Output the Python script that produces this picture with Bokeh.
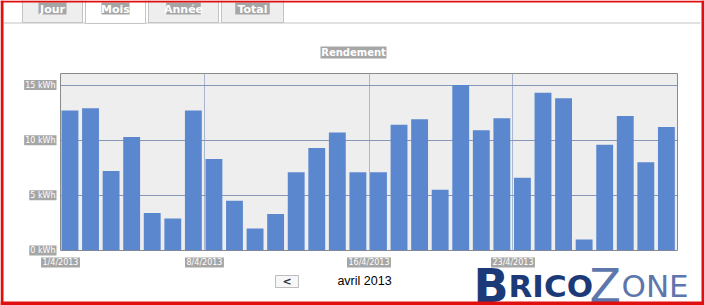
from bokeh.plotting import figure
from bokeh.models import Range1d, FixedTicker, ColumnDataSource
from bokeh.core.properties import value
from bokeh.embed import file_html
from bokeh.resources import INLINE

# ---- data ----
days = list(range(1, 31))
energy_kwh = [12.7, 12.9, 7.2, 10.3, 3.4, 2.9, 12.7, 8.3, 4.5, 2.0,
              3.3, 7.1, 9.3, 10.7, 7.1, 7.1, 11.4, 11.9, 5.5, 15.0,
              10.9, 12.0, 6.6, 14.3, 13.8, 1.0, 9.6, 12.2, 8.0, 11.2]
x_tick_days = [1, 8, 16, 23]
x_tick_labels = ["1/4/2013", "8/4/2013", "16/4/2013", "23/4/2013"]
y_ticks = [0, 5, 10, 15]
y_tick_labels = ["0 kWh", "5 kWh", "10 kWh", "15 kWh"]
tabs = ["Jour", "Mois", "Année", "Total"]
selected_tab = "Mois"
title_text = "Rendement"
month_text = "avril 2013"

W, H = 704, 305
FL, FR, FT, FB = 60, 677, 73, 250  # frame edges in canvas px
X0, X1, Y0, Y1 = 0, 30, 0, 16.05
TICK_FONT = "DejaVu Sans"
TICK_SIZE = 8
X_STANDOFF, Y_STANDOFF = 7, 5
LABEL_BG = "#a6a6a6"


def layer_style(z):
    return {"position": "absolute", "top": "0px", "left": "0px", "z-index": str(z)}


# ---------------- chart layer ----------------
src = ColumnDataSource(dict(x=[d - 1 + 0.46 for d in days], top=energy_kwh))
p = figure(width=W, height=H, x_range=Range1d(X0, X1), y_range=Range1d(Y0, Y1),
           output_backend="svg", toolbar_location=None,
           min_border_left=FL, min_border_right=W - FR,
           min_border_top=FT, min_border_bottom=H - FB)
p.background_fill_color = "#eeeeee"
p.border_fill_color = None
p.outline_line_color = "#8a8a8a"
p.vbar(x="x", top="top", width=0.82, bottom=0, source=src,
       fill_color="#5b87cf", line_color=None)
p.xaxis.ticker = FixedTicker(ticks=[d - 1 for d in x_tick_days])
p.xaxis.major_label_overrides = {d - 1: lab for d, lab in zip(x_tick_days, x_tick_labels)}
p.yaxis.ticker = FixedTicker(ticks=y_ticks)
p.yaxis.major_label_overrides = {t: lab for t, lab in zip(y_ticks, y_tick_labels)}
for ax in (p.xaxis[0], p.yaxis[0]):
    ax.axis_line_color = None
    ax.major_tick_line_color = None
    ax.minor_tick_line_color = None
    ax.major_tick_out = 0
    ax.major_tick_in = 0
    ax.minor_tick_out = 0
    ax.minor_tick_in = 0
    ax.major_label_text_font = TICK_FONT
    ax.major_label_text_font_size = f"{TICK_SIZE}px"
    ax.major_label_text_color = "white"
p.xaxis.major_label_standoff = X_STANDOFF
p.yaxis.major_label_standoff = Y_STANDOFF
p.xgrid.grid_line_color = "#a9b6cf"
p.ygrid.grid_line_color = "#8797b8"
p.styles = layer_style(1)


def canvas_fig(bg, z):
    f = figure(width=W, height=H, x_range=Range1d(0, W), y_range=Range1d(H, 0),
               output_backend="svg", toolbar_location=None, min_border=0,
               x_axis_location=None, y_axis_location=None)
    for g in f.grid:
        g.visible = False
    f.outline_line_color = None
    f.background_fill_color = bg
    f.border_fill_color = bg
    f.styles = layer_style(z)
    return f


# character widths (em) for DejaVu Sans, to size label backgrounds
CW = {"/": .337, " ": .318, "k": .579, "W": .989, "h": .634}


def text_w(s, size):
    return sum(CW.get(ch, .636) for ch in s) * size


# ---------------- back layer: page, tabs, title, label backgrounds ----------------
back = canvas_fig("white", 0)
back.quad(left=[3], right=[700], top=[22], bottom=[23], fill_color="#c4c4c4", line_color=None)
tab_edges = [(22, 82), (85, 145), (148, 218), (221, 283)]
tab_centers = [52, 115, 183, 252]
for (x0, x1), t in zip(tab_edges, tabs):
    sel = t == selected_tab
    back.quad(left=[x0], right=[x1], top=[-2], bottom=[23 if sel else 22],
              fill_color="white" if sel else "#eeeeee", line_color="#c4c4c4")
tab_w = [len(t) * 6.5 for t in tabs]
back.quad(left=[c - w / 2 - 1 for c, w in zip(tab_centers, tab_w)],
          right=[c + w / 2 + 1 for c, w in zip(tab_centers, tab_w)],
          top=[2] * 4, bottom=[14] * 4, fill_color=LABEL_BG, line_color=None)
back.text(x=tab_centers, y=[8.5] * 4, text=tabs, text_color="white",
          text_font=value("DejaVu Sans"), text_font_style="bold", text_font_size="11px",
          text_align="center", text_baseline="middle")
# title
back.quad(left=[320], right=[386], top=[46], bottom=[58], fill_color=LABEL_BG, line_color=None)
back.text(x=[353], y=[52], text=[title_text], text_color="white",
          text_font=value("DejaVu Sans"), text_font_style="bold", text_font_size="10px",
          text_align="center", text_baseline="middle")
# tick label backgrounds (follow the chart's tick values)
xs = [FL + (d - 1 - X0) / (X1 - X0) * (FR - FL) for d in x_tick_days]
xw = [text_w(s, TICK_SIZE) + 3 for s in x_tick_labels]
back.quad(left=[x - w / 2 for x, w in zip(xs, xw)], right=[x + w / 2 for x, w in zip(xs, xw)],
          top=[FB + X_STANDOFF] * len(xs), bottom=[FB + X_STANDOFF + 10] * len(xs),
          fill_color=LABEL_BG, line_color=None)
ys = [FB - (v - Y0) / (Y1 - Y0) * (FB - FT) for v in y_ticks]
yw = [text_w(s, TICK_SIZE) + 2 for s in y_tick_labels]
back.quad(left=[FL - Y_STANDOFF - w + 1 for w in yw], right=[FL - Y_STANDOFF + 1] * len(ys),
          top=[y - 5 for y in ys], bottom=[y + 5 for y in ys],
          fill_color=LABEL_BG, line_color=None)
# navigation
back.quad(left=[275], right=[298], top=[275], bottom=[287], fill_color="#f7f7f7", line_color="#bdbdbd")
back.text(x=[286.5], y=[281], text=["<"], text_color="#333333",
          text_font=value("DejaVu Sans"), text_font_style="bold", text_font_size="11px",
          text_align="center", text_baseline="middle")
back.text(x=[364], y=[280], text=[month_text], text_color="black",
          text_font=value("Liberation Sans"), text_font_size="12.5px",
          text_align="center", text_baseline="middle")

# ---------------- front layer: watermark + red frame ----------------
front = canvas_fig(None, 2)
front.text(x=[473], y=[285], text=["B"], text_color="#1c3a78",
           text_font=value("DejaVu Sans"), text_font_style="bold", text_font_size="46px",
           text_align="left", text_baseline="alphabetic")
front.text(x=[508], y=[285], text=["RICO"], text_color="#1c3a78",
           text_font=value("DejaVu Sans"), text_font_style="bold", text_font_size="31px",
           text_align="left", text_baseline="alphabetic")
front.text(x=[589], y=[285], text=["Z"], text_color="#5d77ad",
           text_font=value("DejaVu Sans"), text_font_size="46px",
           text_align="left", text_baseline="alphabetic")
front.text(x=[621], y=[285], text=["ONE"], text_color="#5d77ad",
           text_font=value("DejaVu Sans"), text_font_size="31px",
           text_align="left", text_baseline="alphabetic")
RED = "#e01010"
front.quad(left=[0, 0, 701, 0], right=[3, 704, 704, 704], top=[0, 0, 0, 301],
           bottom=[305, 2, 305, 305], fill_color=RED, line_color=None)

open("out.html", "w").write(file_html([back, p, front], INLINE))
